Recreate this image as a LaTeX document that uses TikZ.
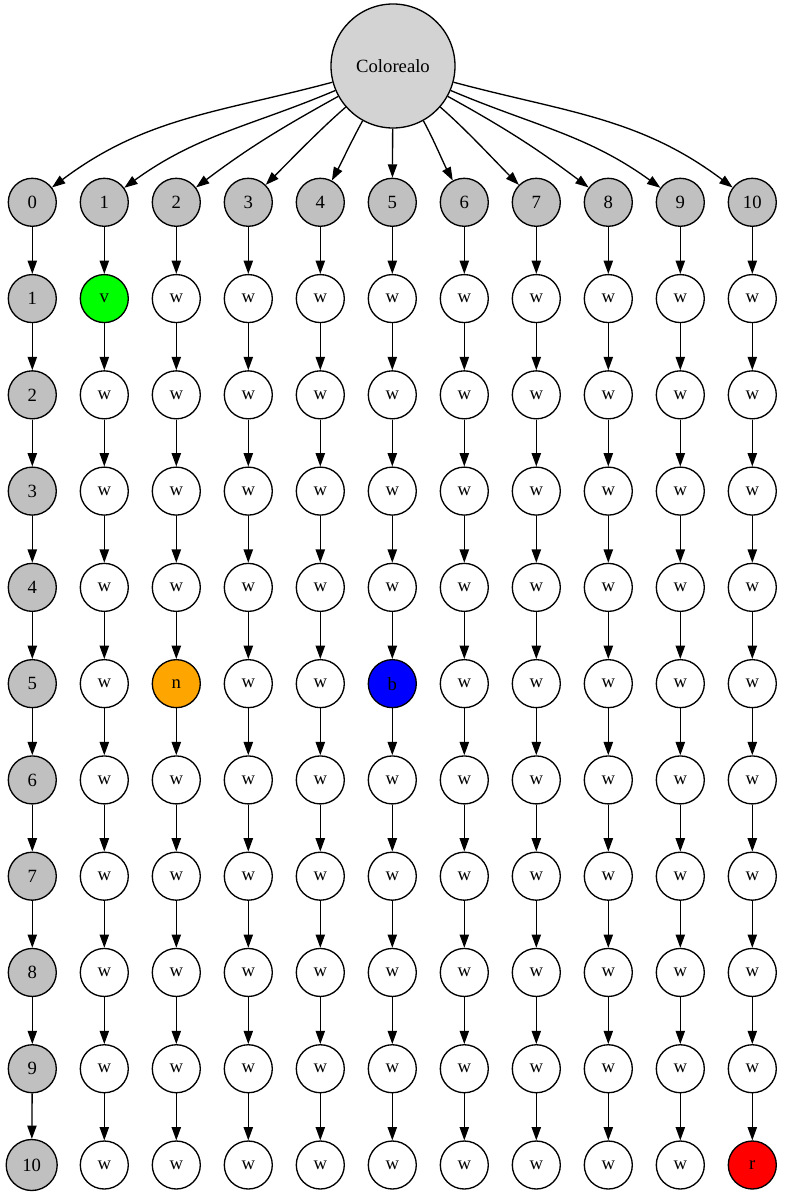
\documentclass[tikz,border=0pt]{standalone}
\usepackage{fontspec}
\setmainfont{Liberation Serif}
\usetikzlibrary{arrows.meta}
\definecolor{gvgray}{HTML}{C0C0C0}
\definecolor{gvlight}{HTML}{D3D3D3}
\definecolor{gvgreen}{HTML}{00FF00}
\definecolor{gvorange}{HTML}{FFA500}
\definecolor{gvblue}{HTML}{0000FF}
\definecolor{gvred}{HTML}{FF0000}
\newcommand\specnode[4]{\expandafter\def\csname splab#1-#2\endcsname{#3}\expandafter\def\csname spcol#1-#2\endcsname{#4}}
\specnode{1}{1}{v}{gvgreen}
\specnode{2}{5}{n}{gvorange}
\specnode{5}{5}{b}{gvblue}
\specnode{10}{10}{r}{gvred}
\begin{document}
\begin{tikzpicture}[x=1pt,y=1pt,
  cnode/.style={circle,draw,line width=1.33pt,minimum size=48pt,inner sep=0pt,
    font=\fontsize{18.67}{20}\selectfont},
  gnode/.style={cnode,fill=gvgray},
  edge/.style={line width=1.33pt,-{Triangle[length=13.3pt,width=9.3pt]}}]
\useasboundingbox (0,0) rectangle (785,-1198);
% top node
\node[cnode,fill=gvlight,minimum size=124pt] (top) at (393,-66) {Colorealo};
% row 0
\foreach \c in {0,...,10}{
  \node[gnode] (n-\c-0) at ({32.3+72*\c},-202.3) {\c};
}
% column 0
\foreach \r in {1,...,9}{
  \node[gnode] (n-0-\r) at (32.3,{-202.3-96.27*\r}) {\r};
}
\node[gnode,minimum size=51pt] (n-0-10) at (31.7,{-202.3-96.27*10}) {10};
% interior
\foreach \c in {1,...,10}{
  \foreach \r in {1,...,10}{
    \ifcsname splab\c-\r\endcsname
      \edef\fc{\csname spcol\c-\r\endcsname}
      \edef\lab{\csname splab\c-\r\endcsname}
    \else
      \def\fc{white}\def\lab{w}
    \fi
    \node[cnode,fill=\fc] (n-\c-\r) at ({32.3+72*\c},{-202.3-96.27*\r}) {\lab};
  }
}
% vertical edges
\foreach \c in {0,...,10}{
  \foreach \r [evaluate=\r as \rn using int(\r+1)] in {0,...,9}{
    \draw[edge] (n-\c-\r) -- (n-\c-\rn);
  }
}
% fan edges
\foreach \c/\o/\i/\l in {0/195/37/1, 1/203/36/1, 2/209/37/1, 3/221/45/0.8, 4/241/62/0.8,
                      6/299/118/0.8, 7/319/135/0.8, 8/331/143/1, 9/337/144/1, 10/345/143/1}{
  \draw[edge] (top) to[out=\o,in=\i,looseness=\l] (n-\c-0);
}
\draw[edge] (top) -- (n-5-0);
\end{tikzpicture}
\end{document}
